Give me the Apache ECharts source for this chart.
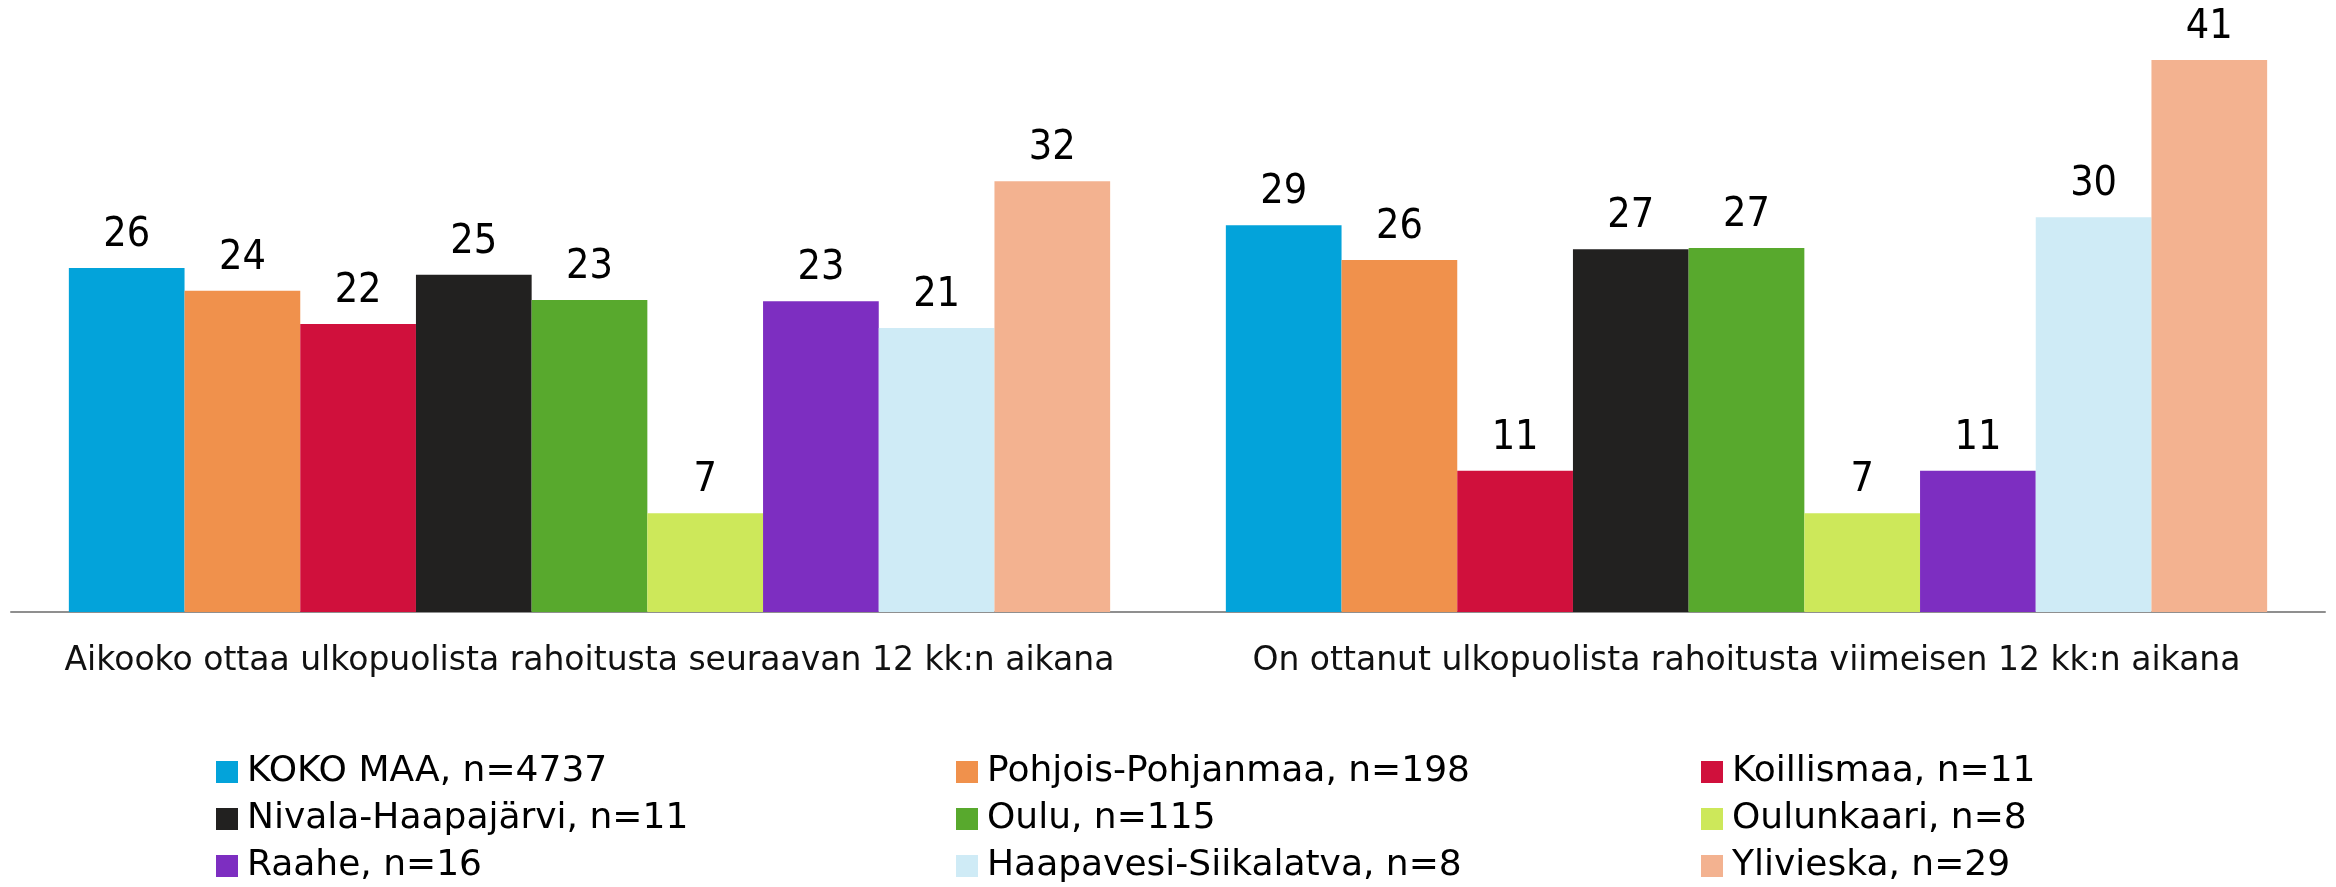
<!DOCTYPE html>
<html>
<head>
<meta charset="utf-8">
<script src="https://cdn.jsdelivr.net/npm/echarts@6/dist/echarts.min.js"></script>
<style>
  html, body { margin: 0; padding: 0; background: #fff; }
  #chart { width: 2336px; height: 887px; }
</style>
</head>
<body>
<div id="chart"></div>
<script>
// categories on the x axis
const categories = [
  'Aikooko ottaa ulkopuolista rahoitusta seuraavan 12 kk:n aikana',
  'On ottanut ulkopuolista rahoitusta viimeisen 12 kk:n aikana'
]

// series (areas)
const areas = [
  'KOKO MAA, n=4737',
  'Pohjois-Pohjanmaa, n=198',
  'Koillismaa, n=11',
  'Nivala-Haapajärvi, n=11',
  'Oulu, n=115',
  'Oulunkaari, n=8',
  'Raahe, n=16',
  'Haapavesi-Siikalatva, n=8',
  'Ylivieska, n=29'
]

// % values (labels show rounded numbers)
const aikoo   = [25.8, 24.1, 21.6, 25.3, 23.4, 7.4, 23.3, 21.3, 32.3]
const ottanut = [29.0, 26.4, 10.6, 27.2, 27.3, 7.4, 10.6, 29.6, 41.4]

const colors = ['#03a3da', '#f0914c', '#d0103c', '#222120', '#58a92d',
                '#cde85a', '#7d2ec1', '#cfebf6', '#f3b290']

let chart = echarts.init(document.getElementById('chart'))

let series = []
for (let i = 0; i < areas.length; i++) {
  series.push({
    name: areas[i],
    type: 'bar',
    barGap: '0%',
    barCategoryGap: '10%',
    itemStyle: { color: colors[i] },
    label: {
      show: true,
      position: 'top',
      distance: 12,
      fontSize: 41,
      fontFamily: 'DejaVu Sans Condensed, DejaVu Sans',
      color: '#000',
      formatter: p => Math.round(p.value)
    },
    data: [aikoo[i], ottanut[i]]
  })
}

const legendLeft = [216, 956, 1701]
let legends = []
for (let c = 0; c < 3; c++) {
  legends.push({
    orient: 'vertical',
    left: legendLeft[c],
    top: 754,
    height: 132,
    padding: 0,
    icon: 'rect',
    itemWidth: 22,
    itemHeight: 22,
    itemGap: 11,
    textStyle: { fontSize: 36, fontFamily: 'DejaVu Sans', color: '#000', padding: [0, 0, 0, 4] },
    data: areas.filter((n, i) => i % 3 === c)
  })
}

chart.setOption({
  animation: false,
  color: colors,
  grid: { left: 11, right: 11, top: 12, height: 600 },
  legend: legends,
  xAxis: {
    type: 'category',
    data: categories,
    axisLine: { lineStyle: { color: '#8f8f8f', width: 2 } },
    axisTick: { show: false },
    axisLabel: {
      interval: 0,
      margin: 33,
      fontSize: 33,
      fontFamily: 'DejaVu Sans',
      color: '#111'
    }
  },
  yAxis: {
    type: 'value',
    min: 0,
    max: 45,
    show: false
  },
  series: series
})
</script>
</body>
</html>
